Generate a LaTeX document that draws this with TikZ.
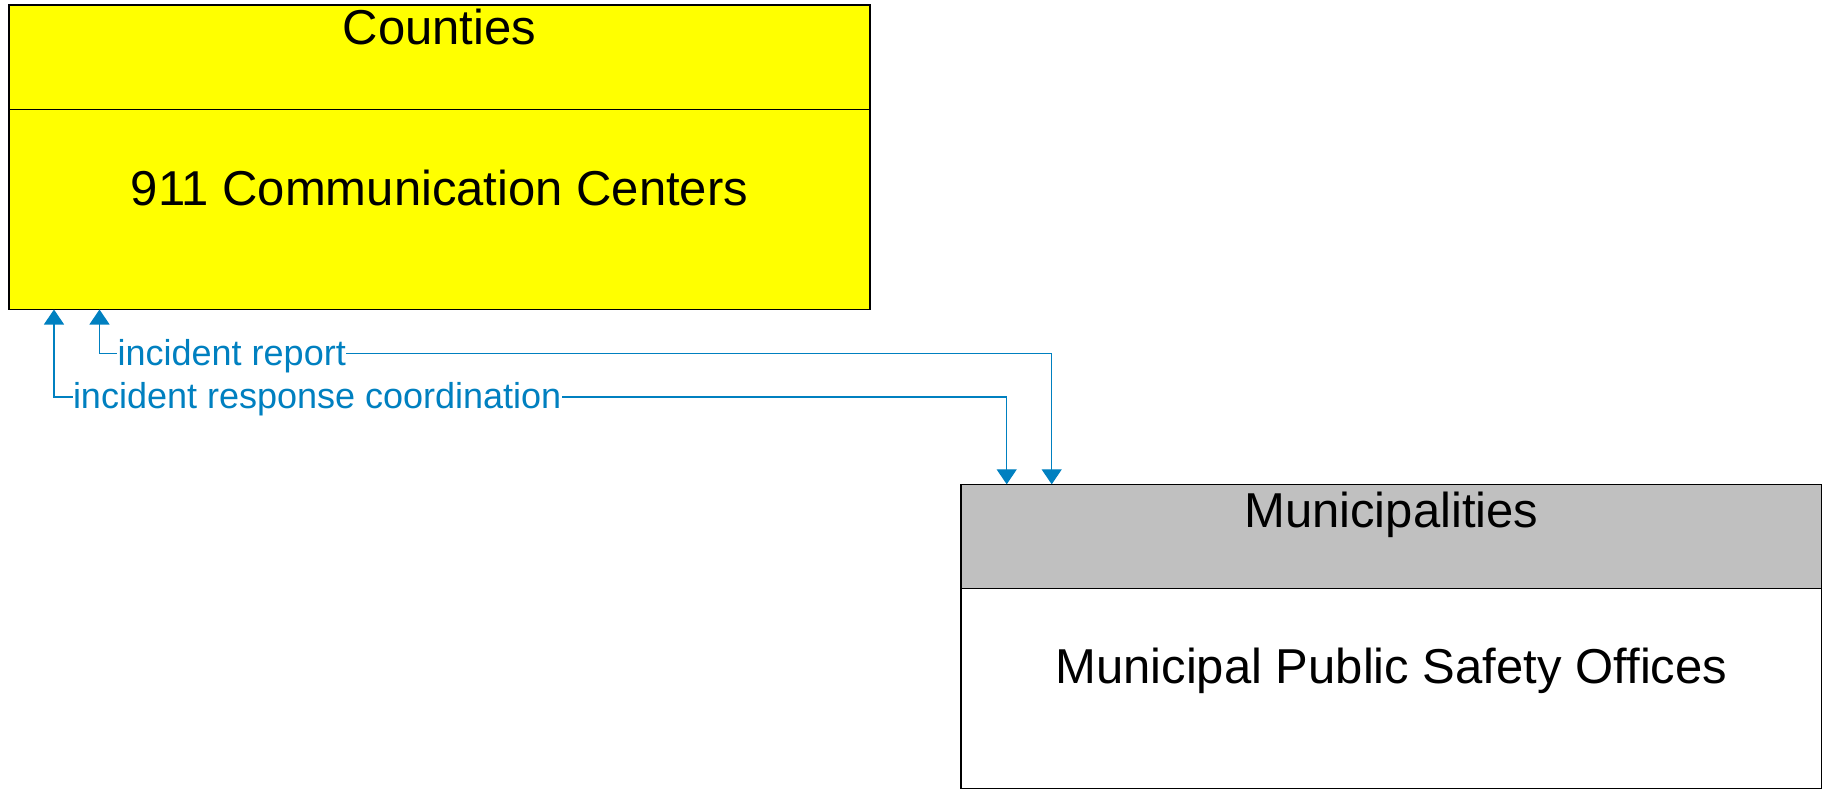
\documentclass[tikz,border=0pt]{standalone}
\usepackage{fontspec}
\setmainfont{Liberation Sans}
\usetikzlibrary{arrows.meta}
\definecolor{flowblue}{RGB}{0,128,192}
\definecolor{hdrgrey}{RGB}{192,192,192}
\definecolor{boxyellow}{RGB}{255,255,0}
\begin{document}
\begin{tikzpicture}[x=1pt,y=-1pt,
  box/.style={draw=black, line width=1.2pt, inner sep=0pt, outer sep=0pt, anchor=north west},
  boxtext/.style={font=\fontsize{49}{58}\selectfont, anchor=base, inner sep=0pt},
  flow/.style={draw=flowblue, line width=1.3pt, {Triangle[width=20pt,length=15pt]}-{Triangle[width=20pt,length=15pt]}},
  flowlabel/.style={font=\fontsize{36}{43}\selectfont, text=flowblue, fill=white, inner xsep=0.5pt, inner ysep=1pt, anchor=base west}]
  \useasboundingbox (0,0) rectangle (1825,789);

  % Counties / 911 Communication Centers
  \node[box, fill=boxyellow, minimum width=861pt, minimum height=104.5pt] (cnthead) at (9,5) {};
  \node[box, fill=boxyellow, minimum width=861pt, minimum height=200pt] (cntbody) at (9,109.5) {};
  \node[boxtext] (cnttitle) at (439.5,45) {Counties};
  \node[boxtext] (cntname) at (439.5,205) {911 Communication Centers};

  % Municipalities / Municipal Public Safety Offices
  \node[box, fill=hdrgrey, minimum width=860.7pt, minimum height=104pt] (munhead) at (961,484.3) {};
  \node[box, fill=white, minimum width=860.7pt, minimum height=200pt] (munbody) at (961,588.3) {};
  \node[boxtext] (muntitle) at (1391.3,527) {Municipalities};
  \node[boxtext] (munname) at (1391.3,683) {Municipal Public Safety Offices};

  % information flows
  \draw[flow] ([xshift=90.7pt]munhead.north west) -- ++(0,-130.8) -| ([xshift=90.5pt]cntbody.south west);
  \draw[flow] ([xshift=45.7pt]munhead.north west) -- ++(0,-87.3) -| ([xshift=45pt]cntbody.south west);
  \node[flowlabel] (lblreport) at (117,365) {incident report};
  \node[flowlabel] (lblcoord) at (72.3,408) {incident response coordination};
\end{tikzpicture}
\end{document}
